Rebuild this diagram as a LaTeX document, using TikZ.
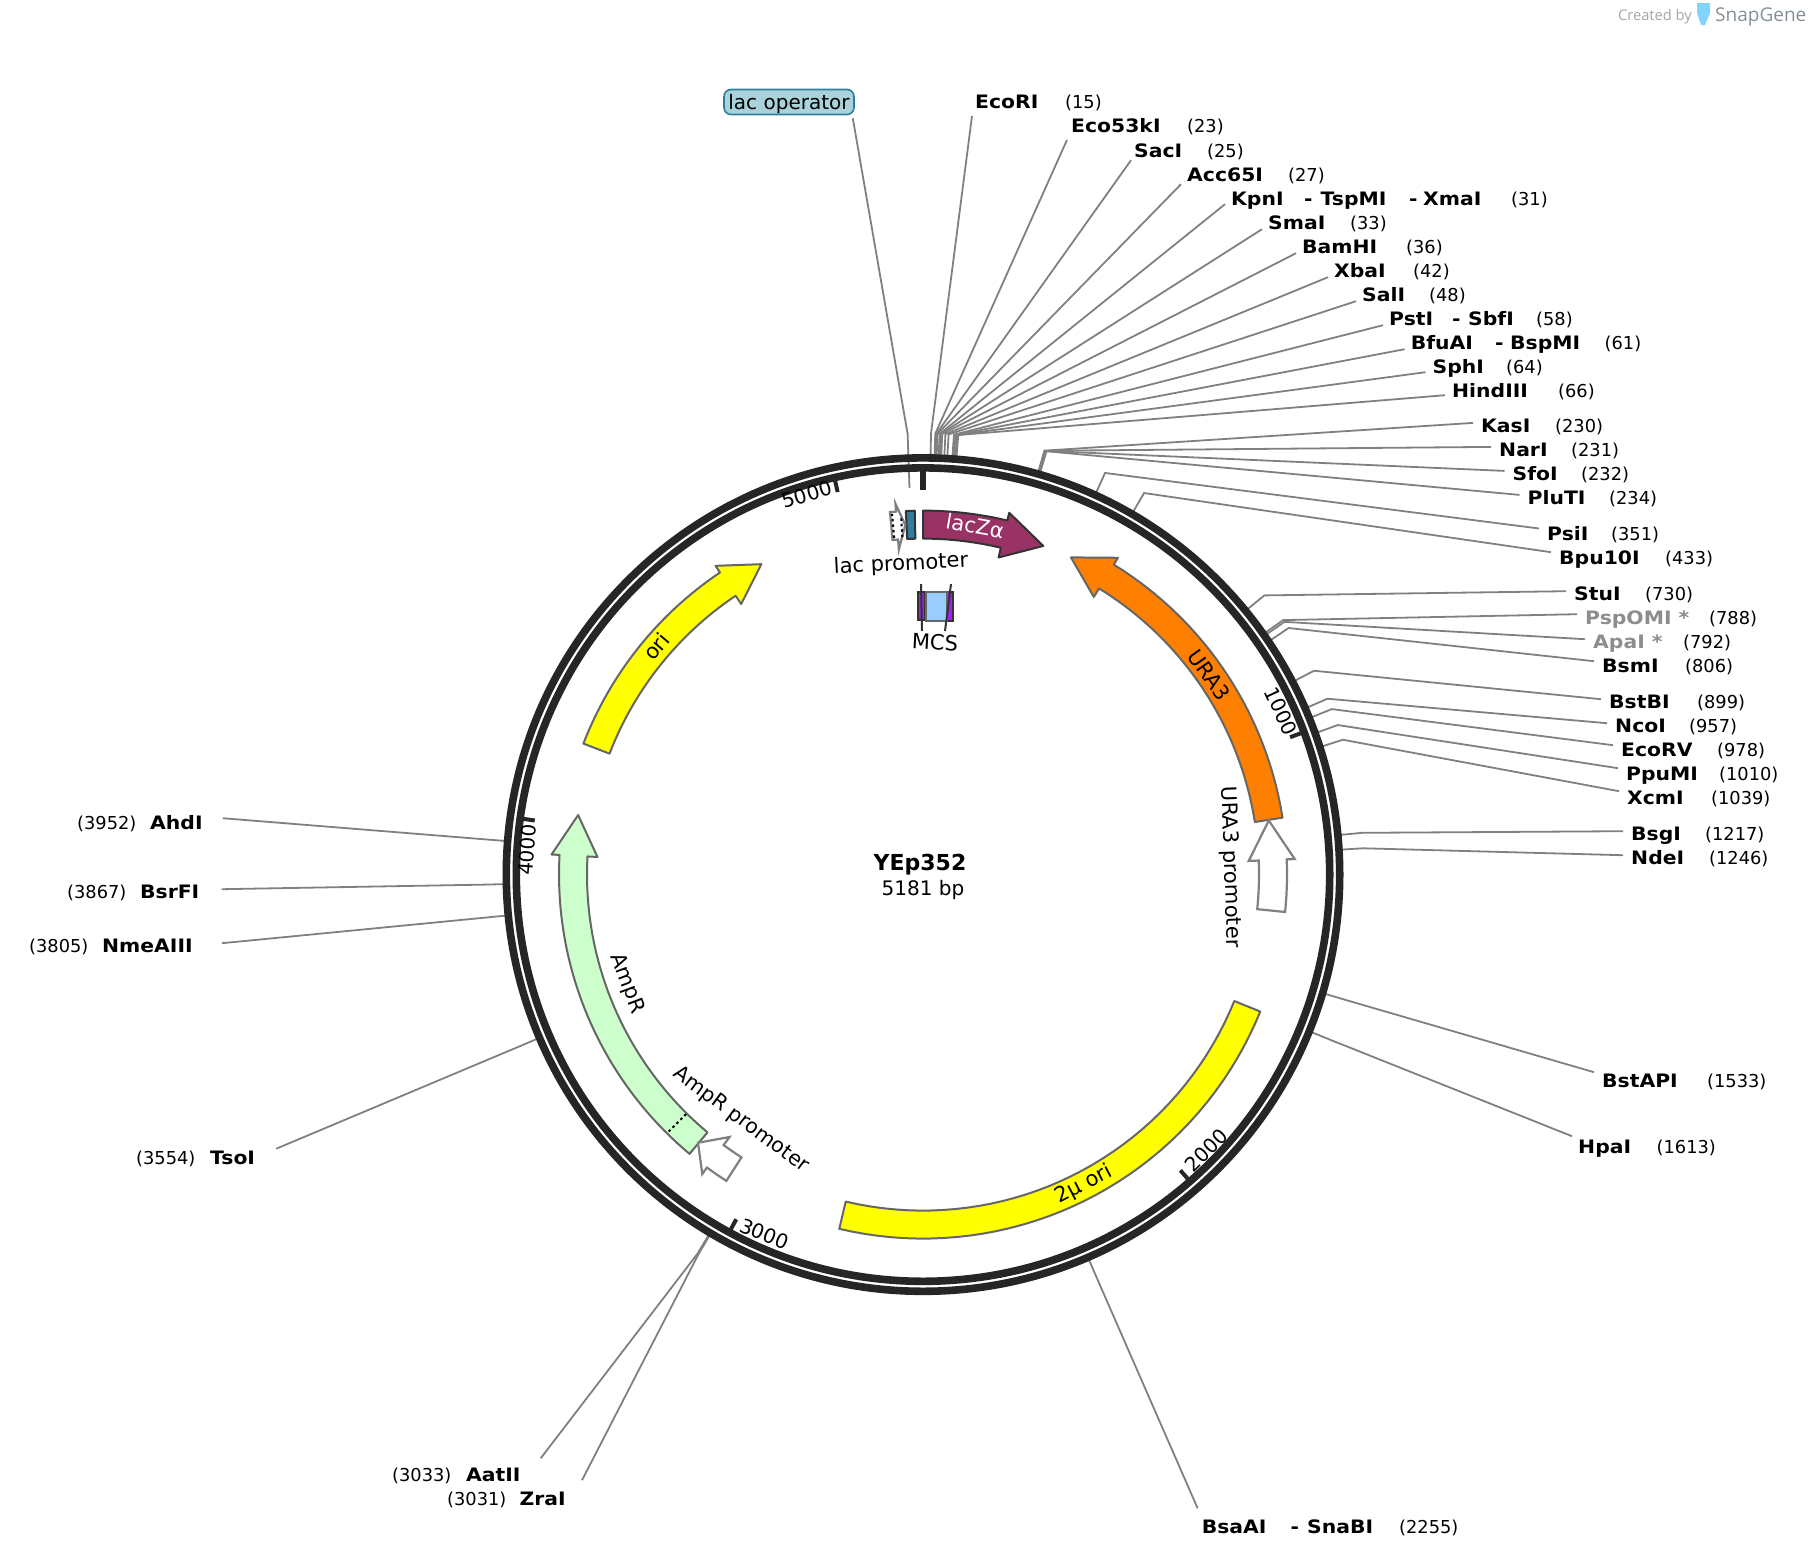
\documentclass[tikz,border=0pt]{standalone}
\usepackage{fontspec}
\setmainfont{DejaVu Sans}
\newfontfamily\sitefont{DejaVu Sans}[FakeStretch=1.1]
\newfontfamily\logofont{Open Sans}
\usetikzlibrary{positioning}

\definecolor{leadgray}{HTML}{808080}
\definecolor{ringblack}{HTML}{262626}
\definecolor{outlinegray}{HTML}{666666}
\definecolor{lacred}{HTML}{993366}
\definecolor{uraorange}{HTML}{FF8000}
\definecolor{oriyellow}{HTML}{FFFF00}
\definecolor{ampgreen}{HTML}{CCFFCC}
\definecolor{opteal}{HTML}{2E7F9E}
\definecolor{oplabel}{HTML}{A9D2DB}
\definecolor{mcspurple}{HTML}{A020F0}
\definecolor{mcsblue}{HTML}{99CCFF}
\definecolor{logogray}{HTML}{858E96}

% arrow on the feature track: style, tail, head base and tip angle from the top
\newcommand{\gbarrow}[4]{
    \draw[hub,#1] plot[domain=#2:#3,samples=40] (\x-90:364) -- (#3-90:372) -- (#4-90:350) -- (#3-90:326)
        -- plot[domain=#3:#2,samples=40] (\x-90:336) -- cycle;
}
% band on the feature track
\newcommand{\gbband}[3]{
    \draw[hub,#1] plot[domain=#2:#3,samples=40] (\x-90:364) -- plot[domain=#3:#2,samples=40] (\x-90:336) -- cycle;
}

\begin{document}
\begin{tikzpicture}[
        x=1pt, y=-1pt,
        font=\fontsize{21}{25}\selectfont,
        hub/.style={shift={(923,874.6)}},
        leader/.style={draw=leadgray, line width=1.8pt},
        site/.style={font=\sitefont\fontsize{18.5}{22}\selectfont\bfseries, inner sep=0pt, anchor=base west, yshift=-1pt, text depth=0pt},
        sitenum/.style={font=\fontsize{17.8}{22}\selectfont, inner sep=0pt, anchor=base west, yshift=-1pt},
        feat/.style={draw=outlinegray, line width=2pt, line join=round},
        prom/.style={draw=leadgray, fill=white, line width=2.2pt, line join=miter},
        tick/.style={draw=ringblack, line width=4pt},
        ticklabel/.style={font=\fontsize{20}{24}\selectfont, inner sep=0pt}
        ]
        \useasboundingbox (0,0) rectangle (1810,1558);

        % enzyme sites, right of the map
        \foreach \nm/\sx/\by/\px/\nb/\dx/\off in {
            EcoRI/975/107.7/1065/15/-3/-7, Eco53kI/1071/131.7/1187/23/-4/-7, SacI/1134/156/1207/25/-3/-3,
            Acc65I/1187/180/1288/27/-6/-3, SmaI/1268/228/1350/33/-6/0, BamHI/1302/252/1406/36/-6/0,
            XbaI/1334/276/1413/42/-6/0, SalI/1362/300/1429/48/-6/0, SphI/1432.5/372/1506/64/-7/1,
            HindIII/1452/396/1558/66/-7/2,
            KasI/1481/431.7/1555/230/-8/10, NarI/1499/455.7/1571/231/-8/10, SfoI/1512.5/479.7/1581/232/-8/10,
            PluTI/1527.5/503.7/1609/234/-8/10, PsiI/1547/539.3/1611/351/-8/12, Bpu10I/1559/563/1665/433/-8/12,
            StuI/1574/599/1645/730/-8/9, BsmI/1602/671/1685/806/-8/11, BstBI/1609/707/1697/899/-8/9,
            NcoI/1615/731/1689/957/-8/9, EcoRV/1621/755/1717/978/-8/11, PpuMI/1626/779/1719/1010/-8/12,
            XcmI/1627/803/1711/1039/-8/13, BsgI/1631/839/1705/1217/-8/9, NdeI/1631/863/1709/1246/-8/9,
            BstAPI/1602/1086/1707/1533/-8/15, HpaI/1578/1152/1656.5/1613/-6/17}
        {
            \pgfmathsetmacro\ang{\nb/5181*360-90}
            \node[site] (\nm) at (\sx,\by) {\nm};
            \node[sitenum] (\nm-num) at (\px,\by) {(\nb)};
            \draw[leader,hub] (\ang:419) -- (\ang:441) -- ([xshift=\dx pt,yshift=\off pt]\nm.south west);
        }

        % sites with two or three names
        \node[site] (KpnI) at (1231,204) {KpnI};
        \node[site] (KpnI-a) at (1304,204) {-};
        \node[site] (TspMI) at (1320.5,204) {TspMI};
        \node[site] (KpnI-b) at (1409,204) {-};
        \node[site] (XmaI) at (1423,204) {XmaI};
        \node[sitenum] (KpnI-num) at (1511,204) {(31)};
        \draw[leader,hub] (31/5181*360-90:419) -- (31/5181*360-90:441) -- ([xshift=-6pt,yshift=1pt]KpnI.south west);

        \node[site] (PstI) at (1389,324) {PstI};
        \node[site] (PstI-a) at (1452,324) {-};
        \node[site] (SbfI) at (1468,324) {SbfI};
        \node[sitenum] (PstI-num) at (1536,324) {(58)};
        \draw[leader,hub] (58/5181*360-90:419) -- (58/5181*360-90:441) -- ([xshift=-6pt]PstI.south west);

        \node[site] (BfuAI) at (1410.6,348) {BfuAI};
        \node[site] (BfuAI-a) at (1495,348) {-};
        \node[site] (BspMI) at (1510,348) {BspMI};
        \node[sitenum] (BfuAI-num) at (1604.5,348) {(61)};
        \draw[leader,hub] (61/5181*360-90:419) -- (61/5181*360-90:441) -- ([xshift=-6pt]BfuAI.south west);

        \node[site] (BsaAI) at (1201.6,1532) {BsaAI};
        \node[site] (BsaAI-a) at (1290.5,1532) {-};
        \node[site] (SnaBI) at (1307,1532) {SnaBI};
        \node[sitenum] (BsaAI-num) at (1399,1532) {(2255)};
        \draw[leader,hub] (2255/5181*360-90:419) -- (2255/5181*360-90:441) -- ([xshift=-4pt,yshift=25pt]BsaAI.south west);

        % the two grey sites
        \node[site,text=leadgray!90] (PspOMI) at (1585,623) {PspOMI *};
        \node[sitenum] (PspOMI-num) at (1709,623) {(788)};
        \draw[leader,hub] (788/5181*360-90:419) -- (788/5181*360-90:441) -- ([xshift=-8pt,yshift=10pt]PspOMI.south west);
        \node[site,text=leadgray!90] (ApaI) at (1593,647) {ApaI *};
        \node[sitenum] (ApaI-num) at (1683,647) {(792)};
        \draw[leader,hub] (792/5181*360-90:419) -- (792/5181*360-90:441) -- ([xshift=-8pt,yshift=9pt]ApaI.south west);

        % enzyme sites, left of the map
        \foreach \nm/\sx/\by/\px/\nb/\dx/\dy in {
            AhdI/150/828/77/3952/20/11, BsrFI/140/897/67/3867/22/9, NmeAIII/102/951/29/3805/29/9,
            TsoI/210/1163.5/136/3554/21/16, AatII/466/1480/392/3033/20/23, ZraI/519.5/1504/447/3031/16/25}
        {
            \pgfmathsetmacro\ang{\nb/5181*360-90}
            \node[site] (\nm) at (\sx,\by) {\nm};
            \node[sitenum] (\nm-num) at (\px,\by) {(\nb)};
            \draw[leader,hub] (\ang:419) -- (\ang:441) -- ([xshift=\dx pt,yshift=\dy pt]\nm.south east);
        }

        % lac operator label
        \node[draw=opteal, fill=oplabel, line width=1.6pt, rounded corners=7pt, inner sep=0pt, minimum width=130pt, minimum height=25pt, text height=16.5pt, text depth=1.5pt, font=\fontsize{20}{24}\selectfont] (laco) at (789,102) {lac operator};
        \draw[leader,hub] ([xshift=-2pt,yshift=-3pt]laco.south east) -- (-92:441) -- (-92:387);

        % the backbone
        \draw[draw=ringblack, line width=7.6pt, hub] (0,0) circle[radius=416.7];
        \draw[draw=ringblack, line width=7.6pt, hub] (0,0) circle[radius=406.7];

        % ticks
        \draw[draw=ringblack, line width=6pt, hub] (-90:404) -- (-90:385);
        \foreach \tk in {1000,2000,3000,4000,5000}
            \draw[tick,hub] (\tk/5181*360-90:404) -- (\tk/5181*360-90:392);
        \node[ticklabel, rotate=-65] (t1000) at (1281,711) {1000};
        \node[ticklabel, rotate=45] (t2000) at (1206,1150) {2000};
        \node[ticklabel, rotate=-22] (t3000) at (764.5,1234) {3000};
        \node[ticklabel, rotate=86] (t4000) at (527.5,850) {4000};
        \node[ticklabel, rotate=17] (t5000) at (807,494.5) {5000};

        % features
        \gbband{feat,fill=oriyellow}{112.1}{193.3}
        \gbarrow{feat,fill=oriyellow}{291.1}{326.1}{332.5}
        \gbarrow{feat,fill=uraorange}{81}{31.6}{25}
        \gbarrow{feat,fill=ampgreen}{219.9}{273.1}{279.8}
        \draw[hub,dash pattern=on 2.5pt off 3pt,line width=2pt] (224.7-90:337) -- (224.7-90:363);
        \gbarrow{feat,draw=black!80,fill=lacred}{0}{13.4}{20.1}
        \gbband{feat,draw=black!80,fill=opteal}{-2.7}{-1.3}
        \gbarrow{prom}{95.9}{87.6}{81.1}
        \gbarrow{prom}{212.7}{216.4}{220}
        \gbarrow{prom}{-5.2}{-4.25}{-2.9}
        \draw[hub,dash pattern=on 2.5pt off 3pt,line width=2pt] (-4.9-90:338) -- (-4.9-90:362);
        \draw[hub,dash pattern=on 2.5pt off 3pt,line width=2pt] (-3.5-90:338) -- (-3.5-90:360);

        % MCS
        \draw[draw=black!80, fill=mcspurple, line width=1.8pt] (918,592) rectangle (925,620);
        \draw[draw=black!80, fill=mcspurple, line width=1.8pt] (947,592) rectangle (953,621);
        \draw[draw=outlinegray, fill=mcsblue, line width=2pt] (926,592) rectangle (947,621);
        \draw[draw=black!80, line width=2pt] (921,584) -- (922,631);
        \draw[draw=black!80, line width=2pt] (951,584) -- (945,631);

        % feature labels
        \node[text=white, inner sep=0pt, rotate=-10] (lacz) at (975,526) {lacZα};
        \node[inner sep=0pt, rotate=3] (lacp) at (901,564.5) {lac promoter};
        \node[inner sep=0pt, rotate=-3] (mcs) at (935,642) {MCS};
        \node[inner sep=0pt, rotate=-55] (ura) at (1209.5,675) {URA3};
        \node[inner sep=0pt, rotate=-88] (urap) at (1230,867) {URA3 promoter};
        \node[inner sep=0pt, rotate=27.4] (twomu) at (1084,1184.5) {2µ ori};
        \node[font=\fontsize{20.5}{25}\selectfont, inner sep=0pt, rotate=-36.5] (ampp) at (741,1120) {AmpR promoter};
        \node[inner sep=0pt, rotate=-69.6] (amp) at (627,983.5) {AmpR};
        \node[inner sep=0pt, rotate=49.6] (ori) at (656,646.5) {ori};

        % plasmid name
        \node[font=\fontsize{22}{26}\selectfont\bfseries, inner sep=0pt] (name) at (920,865) {YEp352};
        \node[font=\fontsize{20}{24}\selectfont, inner sep=0pt] (size) at (923,890) {5181 bp};

        % logo line
        \node[font=\logofont\fontsize{14.7}{16}\selectfont, text=black!35, inner sep=0pt, anchor=base east] (made) at (1692,20) {Created by};
        \fill[fill=mcsblue!85!cyan] (1697,3) -- (1710,3) -- (1710,13) -- (1705,25) -- (1701,25) -- (1697,13) -- cycle;
        \node[font=\logofont\fontsize{19}{22}\selectfont, text=logogray, inner sep=0pt, anchor=base west] (snap) at (1715,21) {SnapGene};
    \end{tikzpicture}
\end{document}
